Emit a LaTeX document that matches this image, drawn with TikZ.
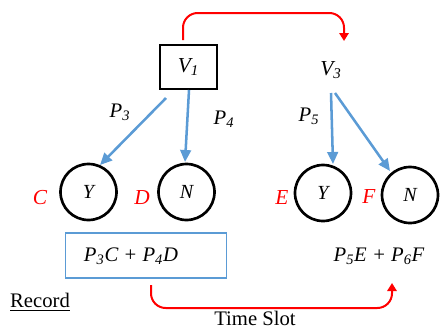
\documentclass[tikz,border=0pt]{standalone}
\usepackage{fontspec}
\setmainfont{Liberation Serif}
\usetikzlibrary{arrows.meta}
\definecolor{myblue}{RGB}{91,155,213}
\definecolor{myred}{RGB}{255,0,0}
\begin{document}
\begin{tikzpicture}[x=0.75pt,y=-0.75pt,
  txt/.style={font=\fontsize{15.5}{18}\selectfont\itshape, inner sep=1pt},
  vbox/.style={draw=black, line width=2.2pt, minimum width=57*0.75pt, minimum height=44*0.75pt, font=\fontsize{16}{18}\selectfont\itshape},
  circ/.style={draw=black, line width=2pt, circle, minimum size=56*0.75pt, inner sep=0pt, font=\fontsize{15}{17}\selectfont\itshape},
  lab/.style={text=myred, font=\fontsize{16}{18}\selectfont\itshape, inner sep=0pt},
  barr/.style={draw=myblue, line width=1.9pt, -{Triangle[length=9pt,width=8pt]}},
  rarr/.style={draw=myred, line width=1.5pt, rounded corners=11pt, -{Triangle[length=6pt,width=7pt]}},
  plain/.style={font=\fontsize{15.5}{18}\selectfont, inner sep=1pt}
]
\useasboundingbox (0,0) rectangle (441,329);
% top boxes
\node[vbox] (v1) at (188.5,67) {V\textsubscript{1}};
\node[txt, font=\fontsize{16}{18}\selectfont\itshape] (v3) at (331,70) {V\textsubscript{3}};
% circles
\node[circ] (y1) at (88.5,192) {Y};
\node[circ] (n1) at (186.5,192) {N};
\node[circ] (y2) at (323,193) {Y};
\node[circ] (n2) at (410,195) {N};
% red labels
\node[lab] (c) at (40,198) {C};
\node[lab] (d) at (142,198) {D};
\node[lab] (e) at (282,198) {E};
\node[lab] (f) at (369,197) {F};
% P labels
\node[txt] (p3) at (120,112) {P\textsubscript{3}};
\node[txt] (p4) at (224,119) {P\textsubscript{4}};
\node[txt] (p5) at (309,116) {P\textsubscript{5}};
% coordinates for arrows
\coordinate (a1s) at (166,98);
\coordinate (a1e) at (100,165);
\coordinate (a2s) at (189,90);
\coordinate (a2e) at (185,162);
\coordinate (a3s) at (331,93);
\coordinate (a3e) at (333,164);
\coordinate (a4s) at (335,93);
\coordinate (a4e) at (390,171);
\draw[barr] (a1s) -- (a1e);
\draw[barr] (a2s) -- (a2e);
\draw[barr] (a3s) -- (a3e);
\draw[barr] (a4s) -- (a4e);
% bottom formula boxes
\node[draw=myblue, line width=1.3pt, minimum width=161*0.75pt, minimum height=45*0.75pt, inner sep=0pt] (box1) at (146,255.5) {};
\node[txt] (f1) at (131,256) {P\textsubscript{3}C + P\textsubscript{4}D};
\node[txt] (f2) at (379,256) {P\textsubscript{5}E + P\textsubscript{6}F};
% red arrows
\coordinate (r1s) at (183,40);
\coordinate (r1e) at (344,41);
\draw[rarr] (r1s) -- (183,13) -- (344,13) -- (r1e);
\coordinate (r2s) at (151,285);
\coordinate (r2e) at (392,283);
\draw[rarr] (r2s) -- (151,308) -- (392,308) -- (r2e);
% texts
\node[plain] (rec) at (40,302) {\underline{Record}};
\node[plain] (ts) at (255,318.5) {Time Slot};
\end{tikzpicture}
\end{document}
